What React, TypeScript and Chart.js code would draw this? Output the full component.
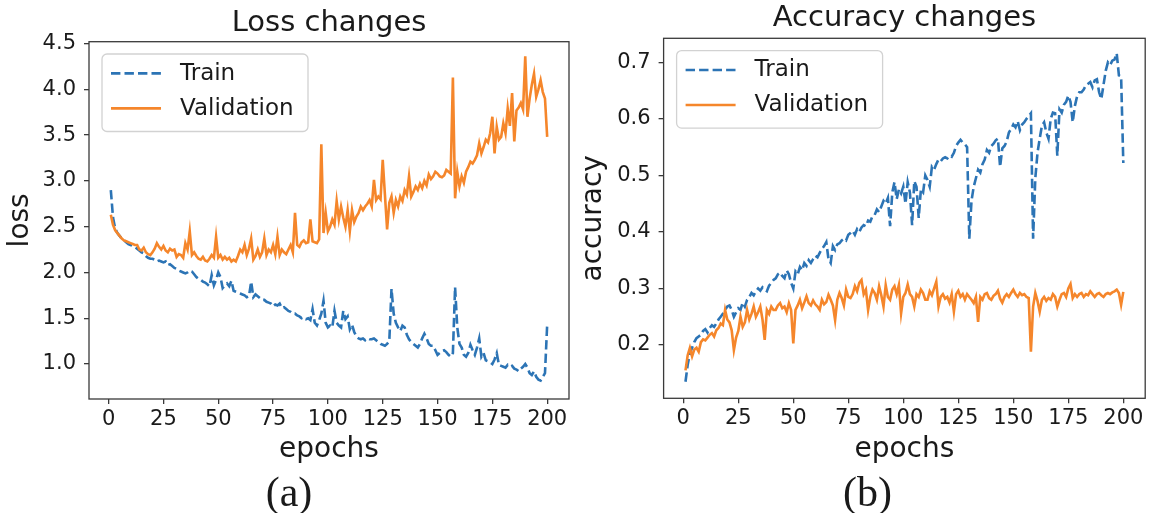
import React, { useEffect, useRef } from 'react';
import { Chart, registerables } from 'chart.js';

Chart.register(...registerables);

// ---- data ---------------------------------------------------------------

const epochs: number[] = Array.from({ length: 200 }, (_, i) => i + 1);

const lossTrain: number[] = [
  2.90, 2.60, 2.48, 2.43, 2.40, 2.37, 2.35, 2.33, 2.31, 2.30,
  2.29, 2.28, 2.26, 2.24, 2.22, 2.21, 2.18, 2.16, 2.15, 2.15,
  2.14, 2.12, 2.13, 2.12, 2.11, 2.12, 2.08, 2.09, 2.07, 2.05,
  2.04, 2.02, 2.01, 2.00, 1.99, 2.00, 2.02, 2.01, 1.98, 1.95,
  1.93, 1.92, 1.90, 1.89, 1.87, 1.85, 1.97, 1.86, 1.92, 2.00,
  1.95, 1.83, 1.86, 1.88, 1.85, 1.91, 1.80, 1.79, 1.78, 1.77,
  1.76, 1.75, 1.73, 1.74, 1.90, 1.73, 1.76, 1.74, 1.72, 1.70,
  1.70, 1.68, 1.67, 1.66, 1.63, 1.65, 1.64, 1.66, 1.61, 1.62,
  1.60, 1.58, 1.57, 1.55, 1.55, 1.53, 1.52, 1.50, 1.51, 1.49,
  1.50, 1.48, 1.60, 1.45, 1.42, 1.48, 1.55, 1.69, 1.45, 1.40,
  1.42, 1.40, 1.58, 1.45, 1.42, 1.40, 1.58, 1.49, 1.52, 1.38,
  1.43, 1.35, 1.30, 1.28, 1.27, 1.28, 1.26, 1.28, 1.27, 1.27,
  1.28, 1.26, 1.24, 1.22, 1.21, 1.20, 1.22, 1.25, 1.82, 1.55,
  1.45, 1.40, 1.36, 1.42, 1.40, 1.32, 1.27, 1.24, 1.22, 1.20,
  1.18, 1.22, 1.28, 1.33, 1.28, 1.22, 1.20, 1.20, 1.15, 1.10,
  1.12, 1.14, 1.15, 1.13, 1.10, 1.08, 1.12, 1.84, 1.40, 1.22,
  1.18, 1.10, 1.08, 1.12, 1.21, 1.15, 1.10, 1.18, 1.28, 1.08,
  1.12, 1.04, 1.03, 1.02, 1.00, 1.05, 1.12, 0.99, 0.98, 0.97,
  0.96, 0.99, 0.97, 0.98, 0.95, 0.94, 0.92, 0.95, 0.97, 1.00,
  0.96, 0.90, 0.88, 0.92, 0.86, 0.83, 0.82, 0.86, 0.90, 1.43,
];

const lossValidation: number[] = [
  2.63, 2.52, 2.46, 2.43, 2.40, 2.37, 2.35, 2.34, 2.33, 2.32,
  2.31, 2.30, 2.30, 2.25, 2.24, 2.27, 2.22, 2.20, 2.19, 2.22,
  2.26, 2.32, 2.28, 2.25, 2.29, 2.24, 2.22, 2.26, 2.24, 2.25,
  2.17, 2.20, 2.19, 2.16, 2.32, 2.25, 2.45, 2.19, 2.22, 2.18,
  2.15, 2.14, 2.17, 2.13, 2.12, 2.15, 2.19, 2.16, 2.39, 2.16,
  2.19, 2.14, 2.17, 2.14, 2.16, 2.12, 2.14, 2.12, 2.18, 2.25,
  2.22, 2.30, 2.19, 2.26, 2.37, 2.14, 2.18, 2.25, 2.17, 2.22,
  2.37, 2.19, 2.25, 2.22, 2.30, 2.20, 2.39, 2.19, 2.25, 2.22,
  2.20, 2.25, 2.30, 2.22, 2.65, 2.30, 2.28, 2.33, 2.35, 2.32,
  2.33, 2.58, 2.34, 2.33, 2.32, 2.36, 3.40, 2.43, 2.65, 2.45,
  2.50, 2.58, 2.52, 2.78, 2.58, 2.72, 2.60, 2.50, 2.68, 2.45,
  2.68, 2.55, 2.61, 2.65, 2.72, 2.68, 2.72, 2.75, 2.79, 2.72,
  3.01, 2.79, 2.83, 2.80, 3.23, 2.85, 2.47, 2.76, 2.83, 2.65,
  2.79, 2.72, 2.83, 2.78, 2.90, 2.85, 3.05, 2.83, 2.88, 2.94,
  2.90, 2.97, 2.92, 3.00, 2.95, 3.07, 3.02, 3.05, 3.10, 3.08,
  3.05, 3.04, 3.06, 3.12, 3.10, 3.08, 4.13, 2.81, 3.10, 2.94,
  3.05, 2.98, 3.10, 3.15, 3.21, 3.19, 3.23, 3.28, 3.41, 3.30,
  3.37, 3.45, 3.42, 3.52, 3.70, 3.30, 3.59, 3.45, 3.48, 3.63,
  3.52, 3.79, 3.60, 3.96, 3.43, 3.77, 3.80, 3.85, 3.78, 4.36,
  3.70, 3.90, 4.05, 4.17, 3.92, 4.00, 4.10, 3.97, 3.90, 3.48,
];

const accuracyTrain: number[] = [
  0.135, 0.165, 0.185, 0.195, 0.205, 0.212, 0.215, 0.218, 0.225, 0.228,
  0.222, 0.230, 0.235, 0.232, 0.238, 0.245, 0.250, 0.255, 0.262, 0.268,
  0.270, 0.262, 0.250, 0.258, 0.265, 0.262, 0.275, 0.268, 0.280, 0.285,
  0.292, 0.288, 0.295, 0.300, 0.296, 0.302, 0.298, 0.295, 0.305, 0.310,
  0.315, 0.318, 0.325, 0.328, 0.322, 0.318, 0.332, 0.325, 0.310, 0.300,
  0.330, 0.325, 0.338, 0.332, 0.345, 0.340, 0.350, 0.345, 0.352, 0.358,
  0.355, 0.363, 0.370, 0.375, 0.382, 0.352, 0.345, 0.375, 0.368, 0.378,
  0.380, 0.385, 0.388, 0.385, 0.395, 0.398, 0.402, 0.395, 0.405, 0.400,
  0.408, 0.412, 0.410, 0.420, 0.418, 0.428, 0.430, 0.440, 0.435, 0.445,
  0.455, 0.450, 0.460, 0.410, 0.470, 0.488, 0.458, 0.475, 0.468, 0.480,
  0.450, 0.488, 0.470, 0.412, 0.490, 0.480, 0.425, 0.475, 0.470, 0.500,
  0.492, 0.480, 0.515, 0.510, 0.520, 0.528, 0.525, 0.530, 0.532, 0.530,
  0.535, 0.533, 0.540, 0.552, 0.558, 0.563, 0.558, 0.555, 0.550, 0.388,
  0.455, 0.480, 0.495, 0.510, 0.505, 0.520, 0.528, 0.545, 0.540, 0.552,
  0.556, 0.562, 0.565, 0.515, 0.548, 0.552, 0.560, 0.576, 0.582, 0.590,
  0.585, 0.596, 0.580, 0.590, 0.594, 0.600, 0.605, 0.610, 0.388, 0.495,
  0.540, 0.565, 0.588, 0.594, 0.576, 0.565, 0.600, 0.611, 0.610, 0.535,
  0.617, 0.611, 0.625, 0.630, 0.641, 0.630, 0.594, 0.623, 0.640, 0.647,
  0.647, 0.652, 0.659, 0.662, 0.665, 0.656, 0.668, 0.670, 0.647, 0.635,
  0.660, 0.685, 0.700, 0.695, 0.703, 0.705, 0.716, 0.677, 0.675, 0.522,
];

const accuracyValidation: number[] = [
  0.155, 0.182, 0.195, 0.180, 0.192, 0.195, 0.188, 0.205, 0.210, 0.208,
  0.213, 0.218, 0.221, 0.215, 0.226, 0.230, 0.238, 0.235, 0.262, 0.245,
  0.240, 0.226, 0.191, 0.213, 0.225, 0.250, 0.232, 0.240, 0.262, 0.245,
  0.255, 0.268, 0.250, 0.258, 0.268, 0.245, 0.209, 0.262, 0.255, 0.268,
  0.262, 0.262, 0.270, 0.274, 0.265, 0.268, 0.258, 0.274, 0.262, 0.203,
  0.262, 0.270, 0.280, 0.265, 0.275, 0.286, 0.274, 0.270, 0.279, 0.272,
  0.268, 0.262, 0.280, 0.272, 0.276, 0.289, 0.280, 0.270, 0.244, 0.280,
  0.292, 0.283, 0.270, 0.298, 0.285, 0.283, 0.290, 0.304, 0.295, 0.310,
  0.315, 0.290, 0.298, 0.262, 0.285, 0.298, 0.292, 0.280, 0.304, 0.288,
  0.268, 0.306, 0.285, 0.280, 0.298, 0.304, 0.290, 0.306, 0.256, 0.285,
  0.292, 0.307, 0.290, 0.285, 0.268, 0.290, 0.285, 0.298, 0.292, 0.280,
  0.280, 0.295, 0.288, 0.300, 0.312, 0.268, 0.285, 0.290, 0.282, 0.285,
  0.275, 0.290, 0.259, 0.290, 0.296, 0.285, 0.290, 0.280, 0.290, 0.285,
  0.280, 0.274, 0.285, 0.241, 0.285, 0.280, 0.290, 0.292, 0.283, 0.280,
  0.287, 0.290, 0.296, 0.282, 0.275, 0.285, 0.290, 0.285, 0.292, 0.298,
  0.290, 0.285, 0.292, 0.288, 0.290, 0.285, 0.283, 0.188, 0.268, 0.292,
  0.278, 0.259, 0.280, 0.285, 0.278, 0.283, 0.280, 0.290, 0.285, 0.268,
  0.280, 0.290, 0.292, 0.285, 0.300, 0.308, 0.283, 0.290, 0.285, 0.290,
  0.292, 0.285, 0.290, 0.288, 0.295, 0.290, 0.285, 0.290, 0.292, 0.288,
  0.285, 0.290, 0.292, 0.290, 0.293, 0.295, 0.298, 0.292, 0.271, 0.294,
];

const epochTicks: number[] = [0, 25, 50, 75, 100, 125, 150, 175, 200];
const lossTicks: number[] = [1.0, 1.5, 2.0, 2.5, 3.0, 3.5, 4.0, 4.5];
const accuracyTicks: number[] = [0.2, 0.3, 0.4, 0.5, 0.6, 0.7];
const seriesNames: string[] = ['Train', 'Validation'];

// ---- styling --------------------------------------------------------------

const FONT = '"DejaVu Sans", "Noto Sans", sans-serif';
const TEXT = '#1a1a1a';
const FRAME = '#3a3a3a';
const BLUE = '#2c74b5';
const ORANGE = '#f5862b';
const TICK_SIZE = 21;

Chart.defaults.font.family = FONT;
Chart.defaults.color = TEXT;

// all four spines around the plotting area
const framePlugin = {
  id: 'axesFrame',
  afterDatasetsDraw(chart: any) {
    const { ctx, chartArea: a } = chart;
    ctx.save();
    ctx.strokeStyle = FRAME;
    ctx.lineWidth = 1.3;
    ctx.strokeRect(a.left, a.top, a.right - a.left, a.bottom - a.top);
    ctx.restore();
  },
};

// boxed legend in the upper-left corner of the plotting area
const boxedLegendPlugin = {
  id: 'boxedLegend',
  afterDraw(chart: any) {
    const { ctx, chartArea: a } = chart;
    const rows = [31.7, 66.7];
    ctx.save();
    ctx.beginPath();
    ctx.roundRect(a.left + 13, a.top + 12.3, 206, 77.5, 5);
    ctx.fillStyle = 'rgba(255,255,255,0.8)';
    ctx.fill();
    ctx.strokeStyle = '#d2d2d2';
    ctx.lineWidth = 1.3;
    ctx.stroke();
    chart.data.datasets.forEach((ds: any, i: number) => {
      const y = a.top + rows[i];
      ctx.beginPath();
      ctx.setLineDash(ds.borderDash || []);
      ctx.lineCap = 'butt';
      ctx.strokeStyle = ds.borderColor;
      ctx.lineWidth = ds.borderWidth;
      ctx.moveTo(a.left + 22, y);
      ctx.lineTo(a.left + 72, y);
      ctx.stroke();
      ctx.setLineDash([]);
      ctx.fillStyle = TEXT;
      ctx.font = `23px ${FONT}`;
      ctx.textBaseline = 'middle';
      ctx.textAlign = 'left';
      ctx.fillText(ds.label, a.left + 91, y + 0.5);
    });
    ctx.restore();
  },
};

type Panel = {
  title: string;
  yLabel: string;
  train: number[];
  validation: number[];
  yTicks: number[];
  yMin: number;
  yMax: number;
  padTop: number;
  titleGap: number;
  padRight: number;
  yAxisWidth: number;
  xAxisHeight: number;
  yTitlePad: number;
};

function buildChart(canvas: HTMLCanvasElement, p: Panel) {
  const points = (vals: number[]) => vals.map((v, i) => ({ x: epochs[i], y: v }));
  return new Chart(canvas, {
    type: 'line',
    data: {
      datasets: [
        {
          label: seriesNames[0],
          data: points(p.train),
          borderColor: BLUE,
          backgroundColor: BLUE,
          borderWidth: 2.6,
          borderDash: [9.4, 4.1],
          pointRadius: 0,
          tension: 0,
          fill: false,
          order: 1,
        },
        {
          label: seriesNames[1],
          data: points(p.validation),
          borderColor: ORANGE,
          backgroundColor: ORANGE,
          borderWidth: 2.6,
          pointRadius: 0,
          tension: 0,
          fill: false,
          order: 0,
        },
      ],
    },
    options: {
      animation: false,
      responsive: false,
      events: [],
      layout: { padding: { left: 0, top: p.padTop, right: p.padRight, bottom: 0 } },
      plugins: {
        legend: { display: false },
        tooltip: { enabled: false },
        title: {
          display: true,
          text: p.title,
          fullSize: false,
          color: TEXT,
          font: { size: 29, weight: 'normal', family: FONT, lineHeight: 1.2 },
          padding: { top: 0, bottom: p.titleGap },
        },
      },
      scales: {
        x: {
          type: 'linear',
          min: -8.95,
          max: 209.95,
          afterBuildTicks: (s: any) => {
            s.ticks = epochTicks.map((v) => ({ value: v }));
          },
          afterFit: (s: any) => {
            s.height = p.xAxisHeight;
          },
          ticks: {
            autoSkip: false,
            maxRotation: 0,
            padding: 2.5,
            color: TEXT,
            font: { size: TICK_SIZE, family: FONT },
            callback: (v: any) => String(v),
          },
          grid: {
            drawOnChartArea: false,
            drawTicks: true,
            tickLength: 5,
            color: FRAME,
            tickColor: FRAME,
            lineWidth: 1.3,
          },
          border: { display: false },
          title: {
            display: true,
            text: 'epochs',
            color: TEXT,
            font: { size: 28, family: FONT, lineHeight: 1 },
            padding: { top: 0, bottom: 49.3 },
          },
        },
        y: {
          type: 'linear',
          min: p.yMin,
          max: p.yMax,
          afterBuildTicks: (s: any) => {
            s.ticks = p.yTicks.map((v) => ({ value: v }));
          },
          afterFit: (s: any) => {
            s.width = p.yAxisWidth;
          },
          ticks: {
            autoSkip: false,
            padding: 8,
            color: TEXT,
            font: { size: TICK_SIZE, family: FONT },
            callback: (v: any) => Number(v).toFixed(1),
          },
          grid: {
            drawOnChartArea: false,
            drawTicks: true,
            tickLength: 5,
            color: FRAME,
            tickColor: FRAME,
            lineWidth: 1.3,
          },
          border: { display: false },
          title: {
            display: true,
            text: p.yLabel,
            color: TEXT,
            font: { size: 28, family: FONT, lineHeight: 1 },
            padding: { top: p.yTitlePad, bottom: 0 },
          },
        },
      },
    } as any,
    plugins: [framePlugin, boxedLegendPlugin],
  });
}

const lossPanel: Panel = {
  title: 'Loss changes',
  yLabel: 'loss',
  train: lossTrain,
  validation: lossValidation,
  yTicks: lossTicks,
  yMin: 0.618,
  yMax: 4.52,
  padTop: 5.9,
  titleGap: 1.0,
  padRight: 9,
  yAxisWidth: 89,
  xAxisHeight: 114,
  yTitlePad: 6.4,
};

const accuracyPanel: Panel = {
  title: 'Accuracy changes',
  yLabel: 'accuracy',
  train: accuracyTrain,
  validation: accuracyValidation,
  yTicks: accuracyTicks,
  yMin: 0.1057,
  yMax: 0.7425,
  padTop: 0.9,
  titleGap: 2.6,
  padRight: 11.8,
  yAxisWidth: 85.6,
  xAxisHeight: 114.7,
  yTitlePad: 1.4,
};

function PanelChart({ panel, width }: { panel: Panel; width: number }) {
  const ref = useRef<HTMLCanvasElement | null>(null);
  useEffect(() => {
    if (!ref.current) return;
    const chart = buildChart(ref.current, panel);
    return () => chart.destroy();
  }, [panel]);
  return <canvas ref={ref} width={width} height={513} style={{ display: 'block', width, height: 513 }} />;
}

const captionStyle: React.CSSProperties = {
  position: 'absolute',
  top: 470.8,
  width: 120,
  textAlign: 'center',
  fontFamily: '"Liberation Serif", "Times New Roman", serif',
  fontSize: 42,
  lineHeight: '42px',
  color: TEXT,
};

export default function App() {
  return (
    <div
      style={{
        position: 'absolute',
        left: 0,
        top: 0,
        width: 1157,
        height: 513,
        background: '#ffffff',
        overflow: 'hidden',
      }}
    >
      <div style={{ position: 'absolute', left: 0, top: 0 }}>
        <PanelChart panel={lossPanel} width={578} />
      </div>
      <div style={{ position: 'absolute', left: 578, top: 0 }}>
        <PanelChart panel={accuracyPanel} width={579} />
      </div>
      <div style={{ ...captionStyle, left: 289 - 60 }}>(a)</div>
      <div style={{ ...captionStyle, left: 867.5 - 60 }}>(b)</div>
    </div>
  );
}
